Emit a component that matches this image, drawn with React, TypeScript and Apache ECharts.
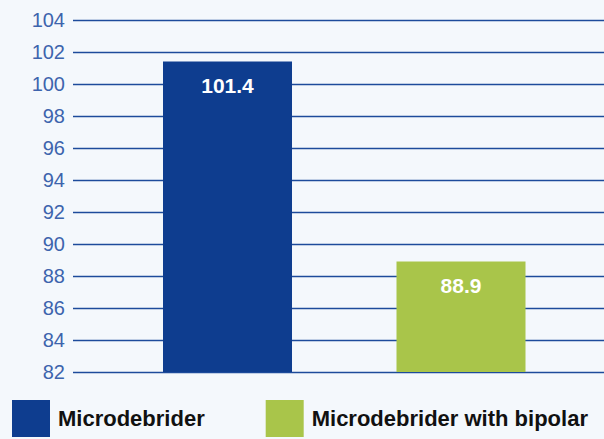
import React, { useEffect, useRef } from "react";
import * as echarts from "echarts";

const categories = ["Microdebrider", "Microdebrider with bipolar"];
const values = [101.4, 88.9];
const colors = ["#0e3d8f", "#a9c54a"];
const yMin = 82;
const yMax = 104;
const yStep = 2;

export default function App() {
  const ref = useRef<HTMLDivElement>(null);
  useEffect(() => {
    if (!ref.current) return;
    const chart = echarts.init(ref.current, undefined, { renderer: "svg" });
    chart.setOption({
      animation: false,
      backgroundColor: "#f4f8fc",
      textStyle: { fontFamily: "Liberation Sans, Arial, sans-serif" },
      grid: [
        { left: 73, right: -10, top: 20, bottom: 67 },
        { left: 110.75, right: 26.25, top: 20, bottom: 67 },
      ],
      legend: {
        left: 12,
        top: 400,
        width: 800,
        padding: 0,
        itemWidth: 38,
        itemHeight: 37,
        itemGap: 61,
        icon: "rect",
        data: categories,
        textStyle: {
          fontSize: 22,
          fontWeight: "bold",
          color: "#111",
          padding: [0, 0, 0, 3],
          fontFamily: "Liberation Sans, Arial, sans-serif",
        },
      },
      xAxis: [
        { type: "category", gridIndex: 0, data: [""], show: false },
        { type: "category", gridIndex: 1, data: [""], show: false },
      ],
      yAxis: [
        {
          type: "value",
          gridIndex: 0,
          min: yMin,
          max: yMax,
          interval: yStep,
          axisLine: { show: false },
          axisTick: { show: false },
          axisLabel: {
            margin: 8,
            fontSize: 20,
            color: "#3d64ad",
            fontFamily: "Liberation Sans, Arial, sans-serif",
          },
          splitLine: { lineStyle: { color: "#1d4b9b", width: 1.4 } },
        },
        {
          type: "value",
          gridIndex: 1,
          min: yMin,
          max: yMax,
          interval: yStep,
          show: false,
          splitLine: { show: false },
        },
      ],
      series: categories.map((name, i) => ({
        name,
        type: "bar",
        xAxisIndex: 1,
        yAxisIndex: 1,
        barWidth: 129,
        barGap: "81%",
        itemStyle: { color: colors[i] },
        data: [values[i]],
        label: {
          show: true,
          position: "insideTop",
          distance: 13,
          color: "#fff",
          fontSize: 21,
          fontWeight: "bold",
          fontFamily: "Liberation Sans, Arial, sans-serif",
        },
      })),
    });
    return () => chart.dispose();
  }, []);
  return (
    <div
      ref={ref}
      style={{ position: "absolute", left: 0, top: 0, width: 604, height: 439 }}
    />
  );
}
